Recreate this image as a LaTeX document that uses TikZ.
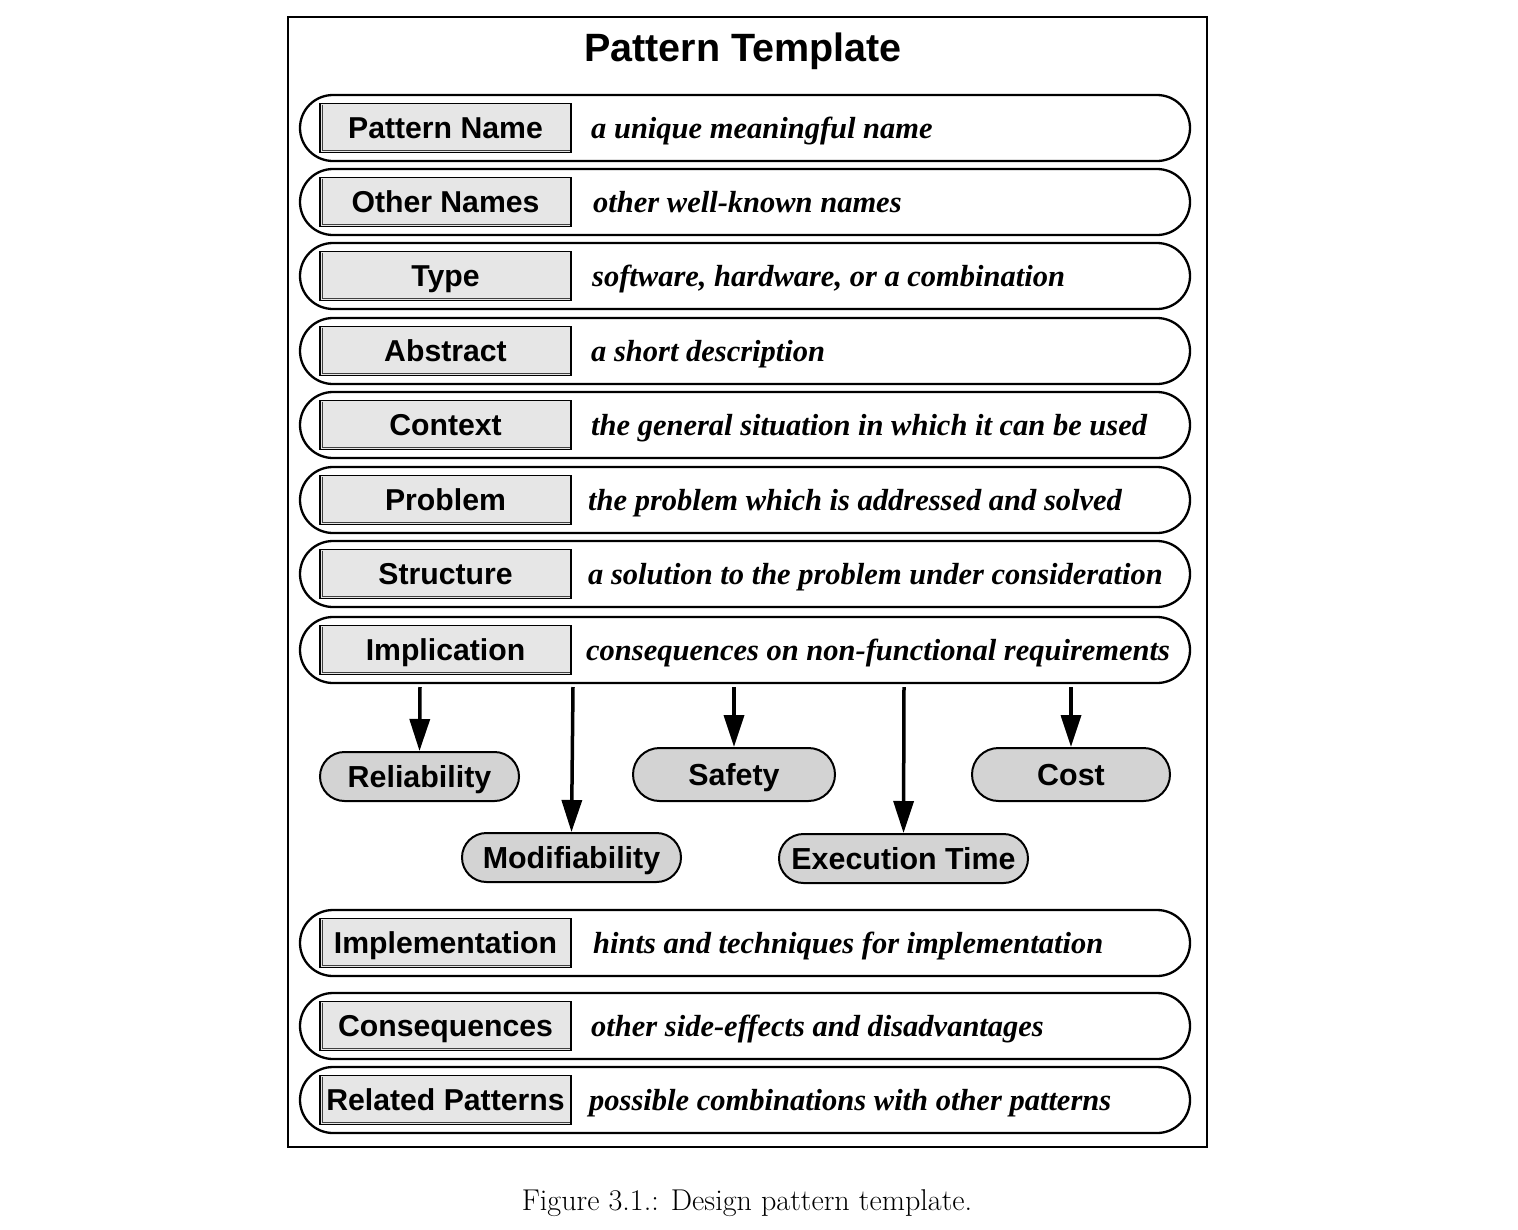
\documentclass[tikz,border=0pt]{standalone}
\usepackage{fontspec}
\newfontfamily\descfont{Liberation Serif}
\newfontfamily\labfont{Liberation Sans}
\usetikzlibrary{shapes.misc,arrows.meta,calc}
\definecolor{lblgray}{HTML}{E6E6E6}
\definecolor{ovalgray}{HTML}{D3D3D3}
\begin{document}
\begin{tikzpicture}[x=1pt,y=-1pt,
  capsule/.style={draw,line width=2.3pt,rounded rectangle,minimum width=890pt,minimum height=66pt,inner sep=0pt},
  lblbox/.style={draw,line width=1.7pt,fill=lblgray,minimum width=251pt,minimum height=49pt,inner sep=0pt,
     text height=25pt,text depth=4pt,
     font=\labfont\bfseries\fontsize{30.2}{34}\selectfont},
  desc/.style={anchor=base west,inner sep=0pt,font=\descfont\bfseries\itshape\fontsize{30.5}{34}\selectfont},
  oval/.style={draw,line width=2pt,fill=ovalgray,rounded rectangle,inner sep=0pt,
     text height=27pt,text depth=5pt,
     font=\labfont\bfseries\fontsize{30.4}{34}\selectfont},
  arr/.style={line width=3.5pt,-{Triangle[width=20pt,length=32pt]}}]
\useasboundingbox (0,0) rectangle (1518,1229);
\node[draw,line width=2.3pt,minimum width=919pt,minimum height=1130pt,inner sep=0pt] (frame) at (747.5,582) {};
\node[anchor=base,inner sep=0pt,font=\labfont\bfseries\fontsize{39.5}{44}\selectfont] (title) at (743,61) {Pattern Template};
% rows
\foreach \n/\y/\lab/\dx/\txt in {
  r1/128/Pattern Name/591/a unique meaningful name,
  r2/202/Other Names/593/other well-known names,
  r3/276/Type/592/{software, hardware, or a combination},
  r4/351/Abstract/591/a short description,
  r5/425/Context/591/the general situation in which it can be used,
  r6/500/Problem/588/the problem which is addressed and solved,
  r7/574/Structure/588/a solution to the problem under consideration,
  r8/650/Implication/586/consequences on non-functional requirements,
  r9/943/Implementation/593/hints and techniques for implementation,
  r10/1026/Consequences/591/other side-effects and disadvantages,
  r11/1100/Related Patterns/589/possible combinations with other patterns}{
  \node[capsule] (\n) at (745,\y) {};
  \node[lblbox] (\n l) at (445.5,\y) {\lab};
  \draw[line width=1pt,black!75] ($(\n l.north west)+(3.2,2)$) -- ($(\n l.south west)+(3.2,-3.2)$) -- ($(\n l.south east)+(-2,-3.2)$);
  \node[desc] (\n d) at (\dx,\y+10) {\txt};
}
% implication nodes
\node[oval,minimum width=199pt,minimum height=49pt] (rel) at (419.5,776.5) {Reliability};
\node[oval,minimum width=202pt,minimum height=53pt] (saf) at (734,774.5) {Safety};
\node[oval,minimum width=198pt,minimum height=53pt] (cost) at (1071,774.5) {Cost};
\node[oval,minimum width=219pt,minimum height=49pt] (mod) at (571.5,857.5) {Modifiability};
\node[oval,minimum width=249pt,minimum height=49pt] (ext) at (903.5,858.5) {Execution Time};
\coordinate (a1) at (420,687);
\coordinate (a2) at (573,687);
\coordinate (a3) at (734,687);
\coordinate (a4) at (904,687);
\coordinate (a5) at (1071,687);
\draw[arr] (a1) -- (rel.north);
\draw[arr] (a2) -- (mod.north);
\draw[arr] (a3) -- (saf.north);
\draw[arr] (a4) -- (ext.north);
\draw[arr] (a5) -- (cost.north);
\node[font=\fontsize{30.1}{34}\selectfont] (cap) at (747,1203) {Figure 3.1.: Design pattern template.};
\end{tikzpicture}
\end{document}
